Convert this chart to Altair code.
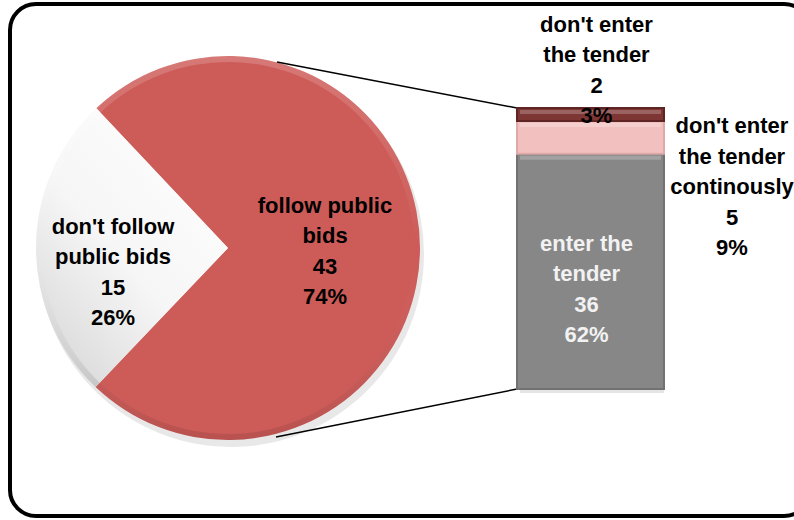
import math
import altair as alt
import pandas as pd

# ---------------- data ----------------
pie_categories = ["follow public bids", "don't follow public bids"]
pie_label_text = ["follow public\nbids", "don't follow\npublic bids"]
pie_values = [43, 15]
pie_pcts = ["74%", "26%"]

bar_categories = ["enter the tender", "don't enter the tender continously", "don't enter the tender"]
bar_label_text = ["enter the\ntender", "don't enter\nthe tender\ncontinously", "don't enter\nthe tender"]
bar_values = [36, 5, 2]
bar_pcts = ["62%", "9%", "3%"]

# ---------------- tables ----------------
pie = pd.DataFrame({"cat": pie_categories, "lab": pie_label_text, "value": pie_values, "pct": pie_pcts})
pie["end"] = pie["value"].cumsum()
pie["start"] = pie["end"] - pie["value"]
pie["mid"] = (pie["start"] + pie["end"]) / 2
pie["text"] = pie["lab"] + "\n" + pie["value"].astype(str) + "\n" + pie["pct"]

bar = pd.DataFrame({"cat": bar_categories, "lab": bar_label_text, "value": bar_values, "pct": bar_pcts})
bar["end"] = bar["value"].cumsum()
bar["start"] = bar["end"] - bar["value"]
bar["mid"] = (bar["start"] + bar["end"]) / 2
bar["text"] = bar["lab"] + "\n" + bar["value"].astype(str) + "\n" + bar["pct"]

total = sum(pie_values)
bar_total = sum(bar_values)

# ---------------- layout ----------------
W, H = 794, 520
PX, PY, R = 228, 248, 192
start_angle = math.radians(316.7)
BX0, BX1 = 517, 664
BXC = (BX0 + BX1) / 2
FONT = "Liberation Sans"
FS = 22
LH = 30.5


def block_shift(n_lines):
    # Vega puts the first line on the anchor; shift so the block is centred
    return -(n_lines - 1) * LH / 2


theta_scale = alt.Scale(domain=[0, total], range=[start_angle, start_angle + 2 * math.pi])
y_scale = alt.Scale(domain=[0, bar_total], range=[394, 103])

border = alt.Chart(pd.DataFrame({"a": [0]})).mark_rect(
    fill="white", stroke="black", strokeWidth=4, cornerRadius=26
).encode(x=alt.value(10), x2=alt.value(810), y=alt.value(4), y2=alt.value(516))

pie_base = alt.Chart(pie)

shadow = pie_base.mark_arc(outerRadius=R + 1, color="#000000", opacity=0.09).encode(
    theta=alt.Theta("start:Q", scale=theta_scale), theta2="end:Q",
    x=alt.value(PX + 3), y=alt.value(PY + 6),
)

red_slice = pie_base.transform_filter(alt.datum.cat == pie_categories[0]).mark_arc(
    outerRadius=R, color="#CD5B58"
).encode(
    theta=alt.Theta("start:Q", scale=theta_scale), theta2="end:Q",
    x=alt.value(PX), y=alt.value(PY),
)

white_slice = pie_base.transform_filter(alt.datum.cat == pie_categories[1]).mark_arc(
    outerRadius=R,
    color=alt.Gradient(
        gradient="linear",
        stops=[alt.GradientStop(color="#ffffff", offset=0),
               alt.GradientStop(color="#f6f6f6", offset=0.55),
               alt.GradientStop(color="#d6d6d6", offset=1)],
        x1=0.9, y1=0, x2=0.1, y2=1,
    ),
).encode(
    theta=alt.Theta("start:Q", scale=theta_scale), theta2="end:Q",
    x=alt.value(PX), y=alt.value(PY),
)

rim = pie_base.mark_arc(
    outerRadius=R, innerRadius=R - 6,
    color=alt.Gradient(
        gradient="linear",
        stops=[alt.GradientStop(color="rgba(255,255,255,0.18)", offset=0),
               alt.GradientStop(color="rgba(255,255,255,0.0)", offset=0.5),
               alt.GradientStop(color="rgba(0,0,0,0.10)", offset=1)],
        x1=0, y1=0, x2=0, y2=1,
    ),
).encode(
    theta=alt.Theta("start:Q", scale=theta_scale), theta2="end:Q",
    x=alt.value(PX), y=alt.value(PY),
)


def pie_text(cat, radius, dy, n_lines, color="black"):
    return pie_base.transform_filter(alt.datum.cat == cat).mark_text(
        radius=radius, dy=dy + block_shift(n_lines), font=FONT, fontSize=FS, fontWeight="bold",
        lineBreak="\n", lineHeight=LH, align="center", baseline="middle", color=color,
    ).encode(
        theta=alt.Theta("mid:Q", scale=theta_scale),
        x=alt.value(PX), y=alt.value(PY), text="text:N",
    )


red_text = pie_text(pie_categories[0], 97, 3, 4)
white_text = pie_text(pie_categories[1], 115, 25, 4)

bar_base = alt.Chart(bar)

bar_shadow = bar_base.mark_bar(color="#000000", opacity=0.10, xOffset=3, yOffset=4).encode(
    y=alt.Y("start:Q", scale=y_scale, axis=None), y2="end:Q",
    x=alt.value(BX0), x2=alt.value(BX1),
)

bars = bar_base.mark_bar(strokeWidth=2).encode(
    y=alt.Y("start:Q", scale=y_scale, axis=None), y2="end:Q",
    x=alt.value(BX0), x2=alt.value(BX1),
    color=alt.Color("cat:N", scale=alt.Scale(domain=bar_categories,
                                              range=["#878787", "#F3C0C0", "#7E3635"]), legend=None),
    stroke=alt.Stroke("cat:N", scale=alt.Scale(domain=bar_categories,
                                                range=["#727272", "#DDA9A9", "#5F2524"]), legend=None),
)

bar_hi = bar_base.mark_bar(color="white", opacity=0.22, height=4).encode(
    y=alt.Y("end:Q", scale=y_scale, axis=None),
    x=alt.value(BX0 + 3), x2=alt.value(BX1 - 3), yOffset=alt.value(4),
)

conn_top = bar_base.transform_filter(alt.datum.cat == bar_categories[2]).mark_rule(
    color="black", strokeWidth=1.5
).encode(
    y=alt.Y("end:Q", scale=y_scale, axis=None), y2=alt.value(62),
    x=alt.value(BX0), x2=alt.value(277),
)

conn_bot = bar_base.transform_filter(alt.datum.cat == bar_categories[0]).mark_rule(
    color="black", strokeWidth=1.5
).encode(
    y=alt.Y("start:Q", scale=y_scale, axis=None), y2=alt.value(437),
    x=alt.value(BX0), x2=alt.value(276),
)


def bar_text(cat, x, dy, n_lines, color="black"):
    return bar_base.transform_filter(alt.datum.cat == cat).mark_text(
        dy=dy + block_shift(n_lines), font=FONT, fontSize=FS, fontWeight="bold",
        lineBreak="\n", lineHeight=LH, align="center", baseline="middle", color=color,
    ).encode(
        y=alt.Y("mid:Q", scale=y_scale, axis=None), x=alt.value(x), text="text:N",
    )


t_enter = bar_text(bar_categories[0], BXC - 4, 18, 4, color="#F2F2F2")
t_cont = bar_text(bar_categories[1], 732, 50, 5)
t_not = bar_text(bar_categories[2], BXC + 6, -44, 4)

chart = alt.layer(
    border, shadow, red_slice, white_slice, rim, red_text, white_text,
    conn_top, conn_bot, bar_shadow, bars, bar_hi, t_enter, t_cont, t_not,
).resolve_scale(color="independent", stroke="independent").properties(
    width=W, height=H, autosize=alt.AutoSizeParams(type="none"), padding=0, background="white"
).configure_view(stroke=None)

chart.save("out.html", embed_options={"renderer": "svg", "actions": False})
